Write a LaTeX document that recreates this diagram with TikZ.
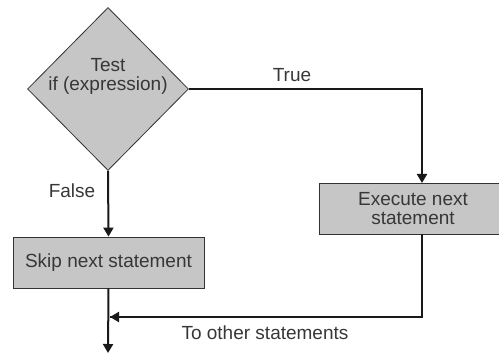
\documentclass[tikz,border=0pt]{standalone}
\usepackage{fontspec}
\setmainfont{Liberation Sans}
\usetikzlibrary{shapes.geometric,arrows.meta}
\definecolor{boxfill}{RGB}{198,198,198}
\definecolor{txt}{RGB}{55,55,55}
\begin{document}
\begin{tikzpicture}[x=1pt,y=1pt,
  every node/.style={font=\fontsize{19}{22}\selectfont, text=txt},
  decision/.style={shape=diamond, draw=black!80, line width=0.8pt, fill=boxfill, minimum width=161pt, minimum height=163pt, inner sep=0pt},
  stepbox/.style={shape=rectangle, draw=black!80, line width=0.8pt, fill=boxfill, inner sep=0pt, align=center},
  flow/.style={draw=black!90, line width=2pt, -{Triangle[width=10pt,length=9pt]}},
  plain/.style={draw=black!90, line width=2pt}]
\useasboundingbox (0,0) rectangle (499,354);
\clip (0,0) rectangle (499,354);
\node[decision] (d) at (108,265) {};
\node[align=center] (dtext) at (108,278) {Test\\[-3pt]if (expression)};
\node[stepbox, minimum width=200pt, minimum height=51pt] (exec) at (419,145.5) {};
\node[align=center] (exectext) at (413,145.5) {Execute next\\[-3pt]statement};
\node[stepbox, minimum width=191pt, minimum height=51pt] (skip) at (108.5,91.5) {Skip next statement};
\coordinate (tr) at (422,265);
\coordinate (ein) at (422,171);
\coordinate (eout) at (422,120);
\coordinate (mr) at (422,37);
\coordinate (ml) at (110,37);
\coordinate (end) at (108,1);
\draw[flow] (d.east) -- (tr) -- (ein);
\draw[flow] (d.south) -- (skip.north);
\draw[plain] (eout) -- (mr) -- (ml);
\draw[flow] (mr) -- (ml);
\draw[flow] (skip.south) -- (end);
\node (ltrue) at (292,279) {True};
\node (lfalse) at (72,163) {False};
\node (lother) at (265,21) {To other statements};
\end{tikzpicture}
\end{document}
